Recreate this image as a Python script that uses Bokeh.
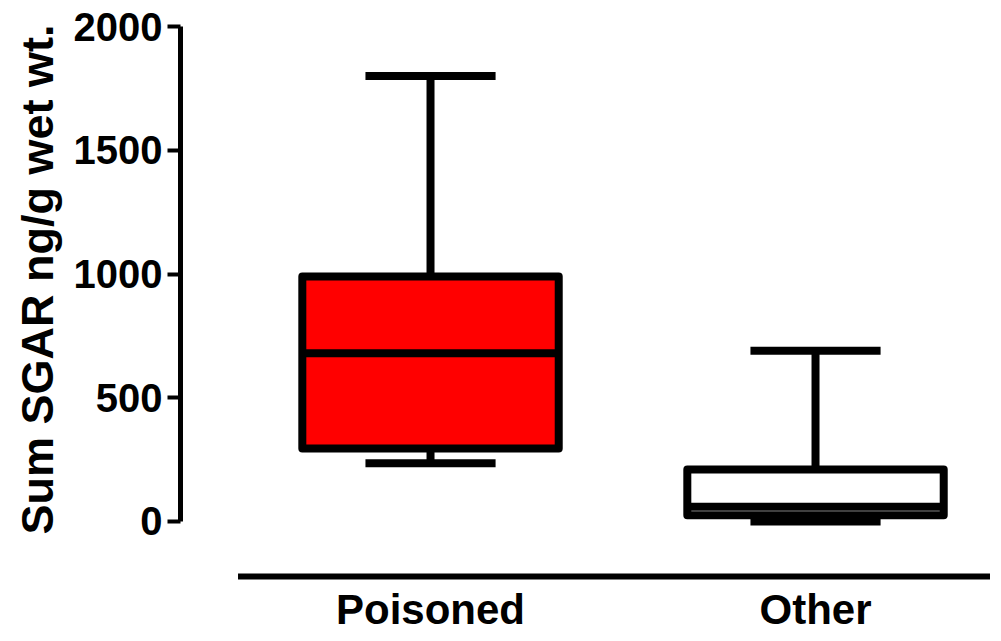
from bokeh.plotting import figure
from bokeh.models import Range1d, LinearAxis, FixedTicker, ColumnDataSource, Title
from bokeh.core.properties import value
from bokeh.embed import file_html
from bokeh.resources import INLINE

# ---- data ----
categories = ["Poisoned", "Other"]
positions = [1, 2]
whisker_low = [235, 0]
q1 = [295, 25]
median = [680, 60]
q3 = [990, 210]
whisker_high = [1800, 690]
fill_colors = ["#ff0000", "#ffffff"]
y_ticks = [0, 500, 1000, 1500, 2000]
y_title = "Sum SGAR ng/g wet wt."

# ---- layout constants ----
BOX_HALF = 0.333
CAP_HALF = 0.169
FONT = "Liberation Sans"
X_START, X_END = 0.3506, 2.4545
Y_START, Y_END = -448.5, 2056.6
AXIS_Y = -222          # where the detached category axis line sits
LABEL_Y = -356         # baseline of the category names
AXIS_X0 = 0.5

p = figure(width=990, height=632, output_backend="svg", toolbar_location=None,
           x_range=Range1d(X_START, X_END), y_range=Range1d(Y_START, Y_END),
           x_axis_type=None, y_axis_type=None,
           min_border_left=180, min_border_right=0, min_border_top=12, min_border_bottom=0)
p.grid.visible = False
p.outline_line_color = None
p.background_fill_color = "white"
p.border_fill_color = "white"

src = ColumnDataSource(dict(
    x=positions,
    left=[x - BOX_HALF for x in positions],
    right=[x + BOX_HALF for x in positions],
    cl=[x - CAP_HALF for x in positions],
    cr=[x + CAP_HALF for x in positions],
    lo=whisker_low, q1=q1, med=median, q3=q3, hi=whisker_high, fill=fill_colors,
))

lw = 8
# whiskers
p.segment(x0="x", y0="q3", x1="x", y1="hi", source=src, line_width=lw, line_color="black")
p.segment(x0="x", y0="lo", x1="x", y1="q1", source=src, line_width=lw, line_color="black")
# caps
p.segment(x0="cl", y0="hi", x1="cr", y1="hi", source=src, line_width=lw, line_color="black")
p.segment(x0="cl", y0="lo", x1="cr", y1="lo", source=src, line_width=lw, line_color="black")
# boxes
p.quad(left="left", right="right", bottom="q1", top="q3", source=src,
       fill_color="fill", line_color="black", line_width=lw, line_join="round")
# median
p.segment(x0="left", y0="med", x1="right", y1="med", source=src, line_width=lw, line_color="black")

# y axis
yax = LinearAxis(ticker=FixedTicker(ticks=y_ticks), bounds=(0, 2000))
yax.major_label_text_font = FONT
yax.major_label_text_font_style = "bold"
yax.major_label_text_font_size = "40px"
yax.major_label_text_color = "black"
yax.major_label_standoff = 5
yax.axis_line_width = 5
yax.axis_line_color = "black"
yax.major_tick_line_width = 4
yax.major_tick_line_color = "black"
yax.major_tick_out = 13
yax.major_tick_in = 0
yax.minor_tick_line_color = None
p.add_layout(yax, "left")

# y axis title (placed as a side title so it can be aligned to the top of the axis)
p.add_layout(Title(text=y_title, align="right", offset=12, standoff=16,
                   text_font=FONT, text_font_style="bold", text_font_size="45px",
                   text_color="black"), "left")

# detached category axis: line + category names
p.segment(x0=[AXIS_X0], y0=[AXIS_Y], x1=[X_END], y1=[AXIS_Y], line_width=6, line_color="black")
p.text(x=positions, y=[LABEL_Y] * len(positions), text=categories,
       text_align="center", text_baseline="alphabetic",
       text_font=value(FONT), text_font_style="bold", text_font_size="42px",
       text_color="black")

open("out.html", "w").write(file_html(p, INLINE))
